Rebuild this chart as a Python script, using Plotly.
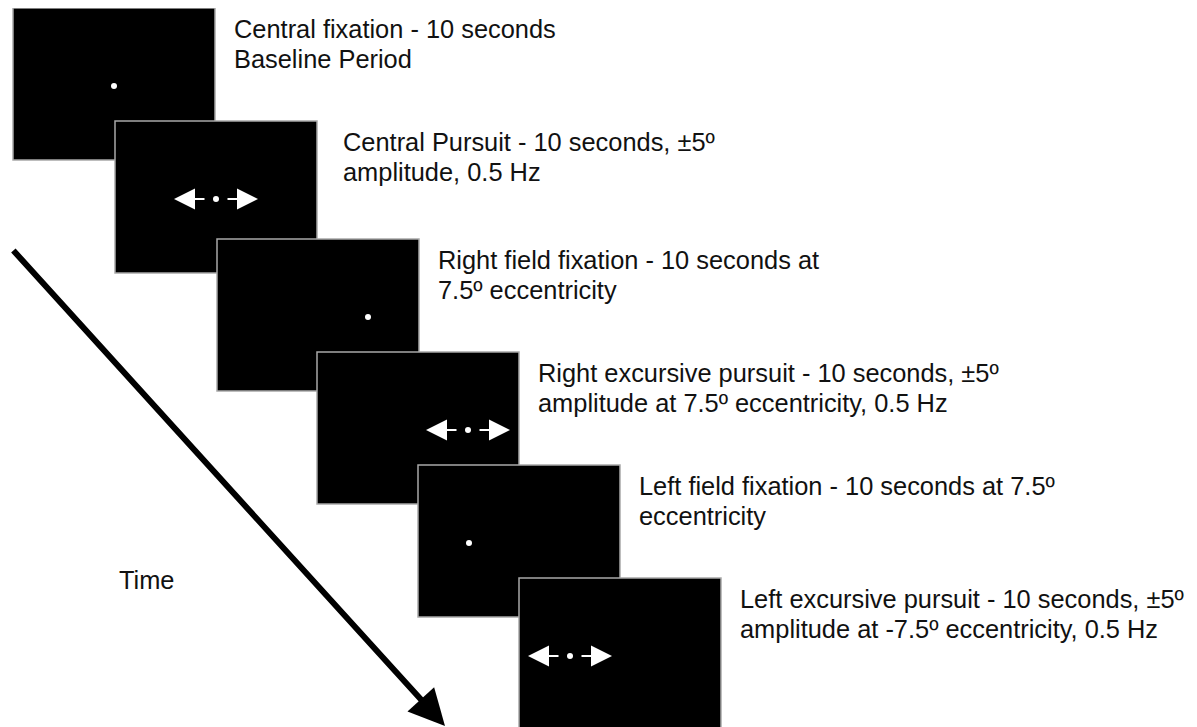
import plotly.graph_objects as go

# ── Stimulus sequence (one entry per screen) ────────────────────────────
LINE1 = [
    "Central fixation - 10 seconds",
    "Central Pursuit - 10 seconds, ±5º",
    "Right field fixation - 10 seconds at",
    "Right excursive pursuit - 10 seconds, ±5º",
    "Left field fixation - 10 seconds at 7.5º",
    "Left excursive pursuit - 10 seconds, ±5º",
]
LINE2 = [
    "Baseline Period",
    "amplitude, 0.5 Hz",
    "7.5º eccentricity",
    "amplitude at 7.5º eccentricity, 0.5 Hz",
    "eccentricity",
    "amplitude at -7.5º eccentricity, 0.5 Hz",
]
ECCENTRICITY_DEG = [0, 0, 7.5, 7.5, -7.5, -7.5]
PURSUIT = [False, True, False, True, False, True]
AXIS_LABEL = "Time"

# ── Layout geometry (pixels) ────────────────────────────────────────────
W, H = 1197, 727
PAGE_MARGIN = 8  # default <body> margin of the written html page
SCR_W, SCR_H = 202, 152
SCR_LEFT = [13, 115, 217, 317, 418, 519]
SCR_TOP = [8, 121, 239, 352, 465, 578]
TEXT_GAP = [17, 24, 17, 17, 17, 17]
PX_PER_DEG = 50 / 7.5
ARROW_GAP, ARROW_LEN = 10, 42
FONT = dict(family="Liberation Sans, Arial, sans-serif", size=25.4, color="#111111")

fig = go.Figure()
annotations = []
shapes = []
dot_x, dot_y = [], []

for i, (x0, y0) in enumerate(zip(SCR_LEFT, SCR_TOP)):
    shapes.append(dict(
        type="rect", xref="x", yref="y", x0=x0, y0=y0, x1=x0 + SCR_W, y1=y0 + SCR_H,
        fillcolor="black", line=dict(color="#a8a8a8", width=1.5), layer="below",
    ))
    cx = x0 + SCR_W / 2 + ECCENTRICITY_DEG[i] * PX_PER_DEG
    cy = y0 + SCR_H / 2 + 2
    dot_x.append(cx)
    dot_y.append(cy)
    if PURSUIT[i]:
        for s in (-1, 1):
            annotations.append(dict(
                x=cx + s * ARROW_LEN, y=cy, ax=cx + s * ARROW_GAP, ay=cy,
                xref="x", yref="y", axref="x", ayref="y", text="",
                showarrow=True, arrowhead=2, arrowsize=2.1, arrowwidth=2,
                arrowcolor="white",
            ))
    # description text, one annotation per line
    tx = x0 + SCR_W + TEXT_GAP[i]
    for k, line in enumerate((LINE1[i], LINE2[i])):
        baseline = y0 + 30 + k * 30
        annotations.append(dict(
            x=tx, y=baseline - 8.7, xref="x", yref="y", text=line,
            showarrow=False, xanchor="left", yanchor="middle", font=FONT,
        ))

fig.add_trace(go.Scatter(
    x=dot_x, y=dot_y, mode="markers",
    marker=dict(color="white", size=6, line=dict(width=0)),
    hoverinfo="skip", showlegend=False,
))

# big time arrow
annotations.append(dict(
    x=445, y=726, ax=12, ay=249, xref="x", yref="y", axref="x", ayref="y",
    text="", showarrow=True, arrowhead=2, arrowsize=1.2, arrowwidth=6,
    arrowcolor="black",
))
annotations.append(dict(
    x=117, y=580, xref="x", yref="y", text=AXIS_LABEL, showarrow=False,
    xanchor="left", yanchor="middle", font=FONT,
))

fig.update_layout(
    width=W - PAGE_MARGIN, height=H - PAGE_MARGIN,
    margin=dict(l=0, r=0, t=0, b=0),
    paper_bgcolor="white", plot_bgcolor="white",
    xaxis=dict(range=[PAGE_MARGIN, W], visible=False, fixedrange=True),
    yaxis=dict(range=[H, PAGE_MARGIN], visible=False, fixedrange=True),
    shapes=shapes, annotations=annotations, showlegend=False,
)

fig.write_html("out.html")
